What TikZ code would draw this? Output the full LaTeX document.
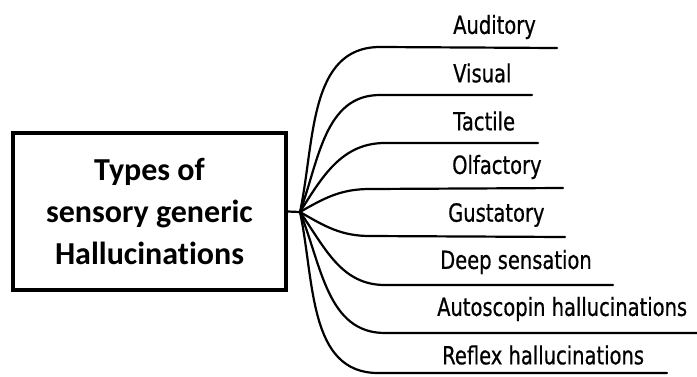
\documentclass[tikz,border=0pt]{standalone}
\usepackage{fontspec}
\setmainfont[Ligatures=NoCommon]{Carlito}
\newfontfamily\labfont[FakeStretch=0.78,FakeBold=0.6]{DejaVu Sans}
\begin{document}
\begin{tikzpicture}[x=1pt,y=-1pt,
  branch/.style={line width=2.2pt, line cap=round},
  lab/.style={anchor=west, inner sep=0pt, font=\labfont\fontsize{25}{28}\selectfont},
  mainbox/.style={draw, line width=3.5pt, minimum width=273pt, minimum height=157pt, align=center, inner sep=0pt,
    font=\bfseries\fontsize{32}{42}\selectfont}]
\useasboundingbox[fill=white] (0,0) rectangle (697,376);
\node[mainbox] (box) at (149.5,211.5) {Types of\\sensory generic\\Hallucinations};
\coordinate (hub) at (300,212);
\draw[branch] (box.east) -- (hub);
% branch start / end coordinates
\coordinate (s1) at (380,47);  \coordinate (e1) at (557,48);
\coordinate (s2) at (380,95);  \coordinate (e2) at (532,95);
\coordinate (s3) at (385,143); \coordinate (e3) at (538,143);
\coordinate (s4) at (370,189); \coordinate (e4) at (563,188);
\coordinate (s5) at (370,236); \coordinate (e5) at (565,237);
\coordinate (s6) at (385,285); \coordinate (e6) at (613,285);
\coordinate (s7) at (385,333); \coordinate (e7) at (700,333);
\coordinate (s8) at (378,373); \coordinate (e8) at (667,373);
\draw[branch] (hub) to[out=78,in=180] (s1) -- (e1);
\draw[branch] (hub) to[out=70,in=180] (s2) -- (e2);
\draw[branch] (hub) to[out=58,in=180] (s3) -- (e3);
\draw[branch] (hub) to[out=30,in=180] (s4) -- (e4);
\draw[branch] (hub) to[out=-30,in=180] (s5) -- (e5);
\draw[branch] (hub) to[out=-55,in=180] (s6) -- (e6);
\draw[branch] (hub) to[out=-68,in=180] (s7) -- (e7);
\draw[branch] (hub) to[out=-78,in=180] (s8) -- (e8);
\node[lab] (l1) at (453,27) {Auditory};
\node[lab] (l2) at (453,73) {Visual};
\node[lab] (l3) at (453,121) {Tactile};
\node[lab] (l4) at (452,167) {Olfactory};
\node[lab] (l5) at (448,215) {Gustatory};
\node[lab] (l6) at (440,262) {Deep sensation};
\node[lab] (l7) at (437,309) {Autoscopin hallucinations};
\node[lab] (l8) at (442,355) {Reflex hallucinations};
\end{tikzpicture}
\end{document}
